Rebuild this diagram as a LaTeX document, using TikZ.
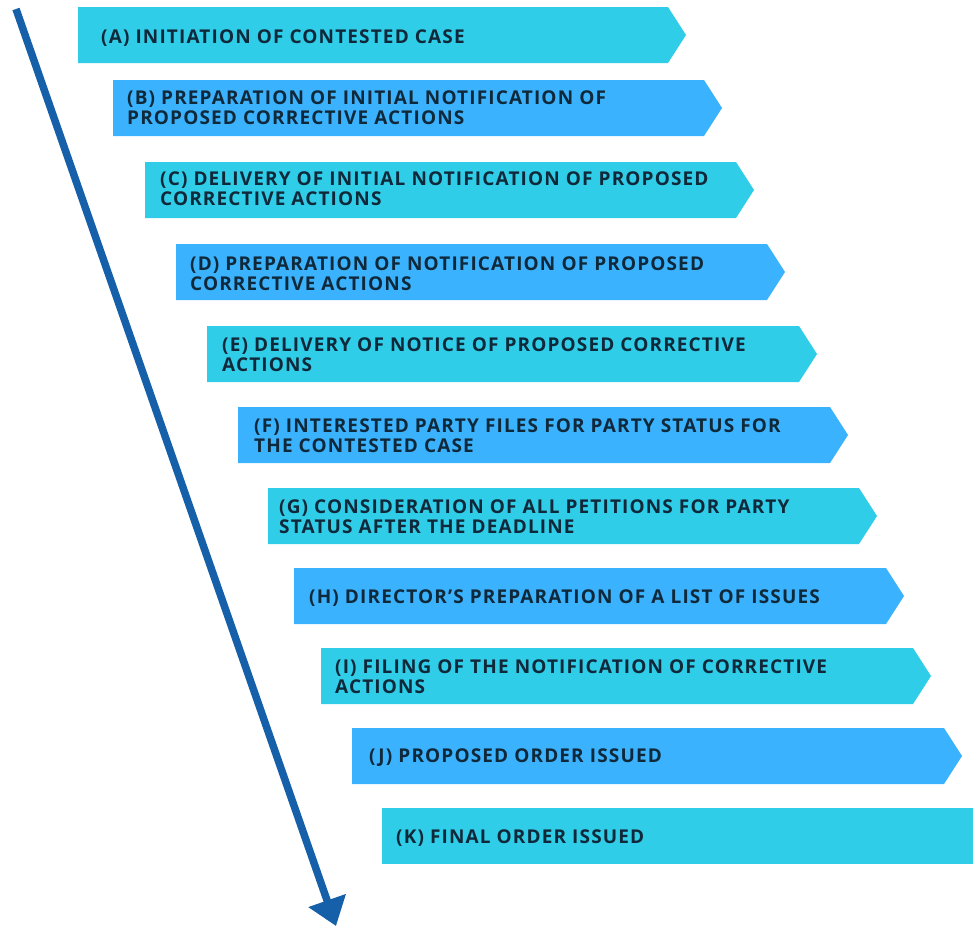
\documentclass[tikz,border=0pt]{standalone}
\usepackage{fontspec}
\setmainfont{Open Sans}
\newfontfamily\lblfont[LetterSpace=6]{Open Sans}
\usetikzlibrary{arrows.meta}
\definecolor{cyanbox}{HTML}{30CDE8}
\definecolor{bluebox}{HTML}{3BB2FD}
\definecolor{arrowblue}{HTML}{1660A9}
\definecolor{textdark}{HTML}{10293A}
\tikzset{
  lbl/.style={anchor=west, align=left, inner sep=0pt, text=textdark,
    font=\lblfont\fontsize{19}{20}\selectfont\bfseries},
  flow/.style={draw=arrowblue, line width=7.5pt, -{Triangle[length=27pt,width=38pt]}}
}
% #1 left, #2 top, #3 tip x, #4 colour
\newcommand{\chev}[4]{\fill[#4] (#1,#2) -- (#3-18,#2) -- (#3,#2+28) -- (#3-18,#2+56) -- (#1,#2+56) -- cycle;}
\begin{document}
\begin{tikzpicture}[x=1pt,y=-1pt]
\useasboundingbox (0,0) rectangle (973,926);
\fill[white] (0,0) rectangle (973,926);
\chev{78}{7}{686}{cyanbox}
\chev{113}{80}{722}{bluebox}
\chev{145}{162}{754}{cyanbox}
\chev{176}{244}{785}{bluebox}
\chev{207}{326}{817}{cyanbox}
\chev{238}{407}{848}{bluebox}
\chev{268}{488}{877}{cyanbox}
\chev{294}{568}{904}{bluebox}
\chev{321}{648}{931}{cyanbox}
\chev{352}{728}{962}{bluebox}
\fill[cyanbox] (382,808) rectangle (973,864);
\node[lbl] (a) at (101,38) {(A) INITIATION OF CONTESTED CASE};
\node[lbl] (b) at (127,108) {(B) PREPARATION OF INITIAL NOTIFICATION OF\\PROPOSED CORRECTIVE ACTIONS};
\node[lbl] (c) at (160,189) {(C) DELIVERY OF INITIAL NOTIFICATION OF PROPOSED\\CORRECTIVE ACTIONS};
\node[lbl] (d) at (190,274) {(D) PREPARATION OF NOTIFICATION OF PROPOSED\\CORRECTIVE ACTIONS};
\node[lbl] (e) at (222,355) {(E) DELIVERY OF NOTICE OF PROPOSED CORRECTIVE\\ACTIONS};
\node[lbl] (f) at (254,436) {(F) INTERESTED PARTY FILES FOR PARTY STATUS FOR\\THE CONTESTED CASE};
\node[lbl] (g) at (279,517) {(G) CONSIDERATION OF ALL PETITIONS FOR PARTY\\STATUS AFTER THE DEADLINE};
\node[lbl] (h) at (309,598) {(H) DIRECTOR’S PREPARATION OF A LIST OF ISSUES};
\node[lbl] (i) at (335,677) {(I) FILING OF THE NOTIFICATION OF CORRECTIVE\\ACTIONS};
\node[lbl] (j) at (369,758) {(J) PROPOSED ORDER ISSUED};
\node[lbl] (k) at (396,838) {(K) FINAL ORDER ISSUED};
\coordinate (start) at (16,9);
\coordinate (end) at (336,926);
\draw[flow] (start) -- (end);
\end{tikzpicture}
\end{document}
